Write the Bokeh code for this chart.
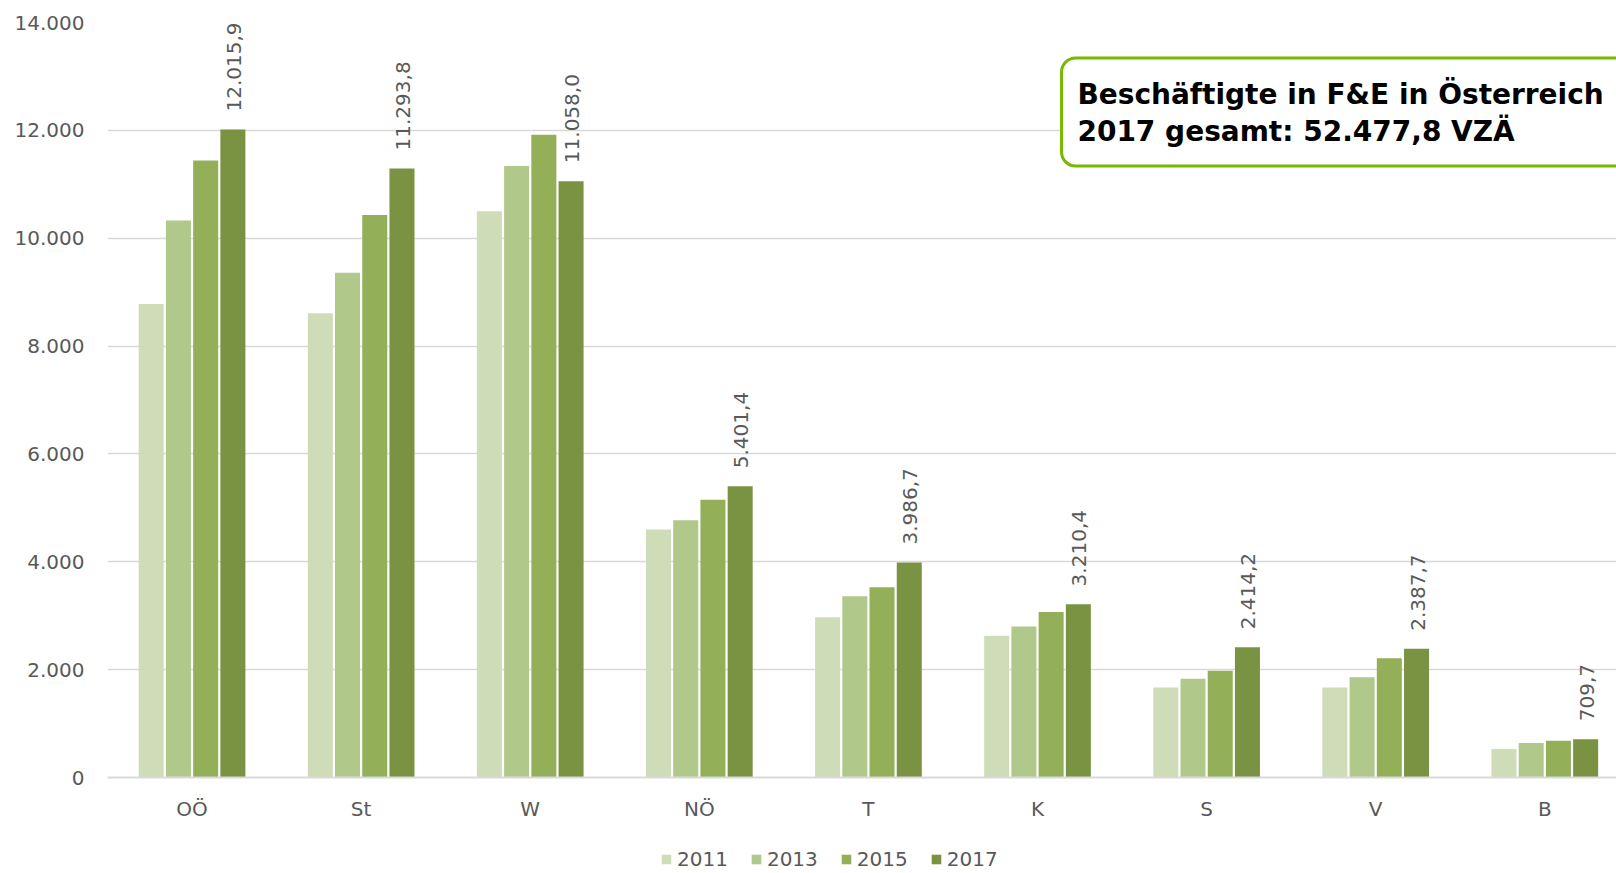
import math
from bokeh.plotting import figure
from bokeh.layouts import column
from bokeh.models import (ColumnDataSource, Range1d, FixedTicker, BoxAnnotation, Label,
                          LabelSet, Legend, LegendItem)
from bokeh.core.properties import value
from bokeh.embed import file_html
from bokeh.resources import INLINE

categories = ["OÖ", "St", "W", "NÖ", "T", "K", "S", "V", "B"]
years = ["2011", "2013", "2015", "2017"]
v2011 = [8780, 8610, 10500, 4600, 2970, 2630, 1670, 1670, 530]
v2013 = [10330, 9360, 11340, 4770, 3360, 2800, 1830, 1860, 640]
v2015 = [11440, 10430, 11920, 5150, 3530, 3070, 1980, 2210, 680]
v2017 = [12015.9, 11293.8, 11058.0, 5401.4, 3986.7, 3210.4, 2414.2, 2387.7, 709.7]
colors = ["#cfdcb8", "#b0c88a", "#93b058", "#7a9343"]
y_ticks = [0, 2000, 4000, 6000, 8000, 10000, 12000, 14000]
y_tick_labels = ["0", "2.000", "4.000", "6.000", "8.000", "10.000", "12.000", "14.000"]
title_lines = ["Beschäftigte in F&E in Österreich", "2017 gesamt: 52.477,8 VZÄ"]

FONT = "DejaVu Sans"
GRAY = "#595959"

p = figure(width=1616, height=837, output_backend="svg", toolbar_location=None,
           x_range=Range1d(0, 8.924), y_range=Range1d(0, 14000),
           min_border_left=107, min_border_right=0, min_border_top=22, min_border_bottom=60)
p.outline_line_color = None
p.background_fill_color = "white"

series = [v2011, v2013, v2015, v2017]
step = 0.161
width = 0.148
renderers = []
for j, (yr, vals) in enumerate(zip(years, series)):
    xs = [i + 0.5 + (j - 1.5) * step for i in range(len(categories))]
    src = ColumnDataSource(dict(x=xs, top=vals))
    r = p.vbar(x="x", top="top", width=width, bottom=0, source=src,
               fill_color=colors[j], line_color=None)
    renderers.append(r)

# data labels for 2017
def fmt(v):
    s = f"{v:,.1f}"
    return s.replace(",", "X").replace(".", ",").replace("X", ".")

lx = [i + 0.5 + 1.5 * step + 0.006 for i in range(len(categories))]
lsrc = ColumnDataSource(dict(x=lx, y=v2017, t=[fmt(v) for v in v2017]))
labels = LabelSet(x="x", y="y", text="t", source=lsrc, angle=math.pi / 2,
                  text_align="left", text_baseline="middle", y_offset=18,
                  text_font=value(FONT), text_font_size="20px", text_color=GRAY)
p.add_layout(labels)

# axes
p.xaxis.ticker = FixedTicker(ticks=[i + 0.5 for i in range(len(categories))])
p.xaxis.major_label_overrides = {i + 0.5: c for i, c in enumerate(categories)}
p.xaxis.major_tick_line_color = None
p.xaxis.major_tick_out = 0
p.xaxis.major_tick_in = 0
p.xaxis.minor_tick_line_color = None
p.xaxis.axis_line_color = "#d9d9d9"
p.xaxis.axis_line_width = 2
p.xaxis.major_label_text_font = FONT
p.xaxis.major_label_text_font_size = "20px"
p.xaxis.major_label_text_color = GRAY
p.xaxis.major_label_standoff = 19

p.yaxis.ticker = FixedTicker(ticks=y_ticks)
p.yaxis.major_label_overrides = dict(zip(y_ticks, y_tick_labels))
p.yaxis.major_tick_line_color = None
p.yaxis.major_tick_out = 0
p.yaxis.major_tick_in = 0
p.yaxis.minor_tick_line_color = None
p.yaxis.axis_line_color = None
p.yaxis.major_label_text_font = FONT
p.yaxis.major_label_text_font_size = "20px"
p.yaxis.major_label_text_color = GRAY
p.yaxis.major_label_standoff = 23

p.xgrid.grid_line_color = None
p.ygrid.grid_line_color = "#d9d9d9"
p.ygrid.grid_line_width = 1.5

# title box
box = BoxAnnotation(left=5.642, right=9.6, top=13342, bottom=11339,
                    fill_color="white", fill_alpha=1.0, line_alpha=1.0,
                    line_color="#76b900", line_width=3, border_radius=14)
p.add_layout(box)
for line, yv in zip(title_lines, [12660, 11976]):
    p.add_layout(Label(x=5.736, y=yv, text=line, text_font=FONT, text_font_style="bold",
                       text_font_size="28px", text_color="black", text_baseline="alphabetic"))

# legend strip below the chart (frames are aligned in the column layout)
pl = figure(width=1616, height=36, output_backend="svg", toolbar_location=None,
            x_range=Range1d(0, 1), y_range=Range1d(0, 1),
            min_border_left=107, min_border_right=0, min_border_top=0, min_border_bottom=0)
pl.axis.visible = False
pl.grid.grid_line_color = None
pl.outline_line_color = None
nan = float("nan")
leg_renderers = [pl.vbar(x=[nan], top=[nan], width=0.1, fill_color=c, line_color=None)
                 for c in colors]
legend = Legend(items=[LegendItem(label=yr, renderers=[r]) for yr, r in zip(years, leg_renderers)],
                orientation="horizontal", location=(553, 2),
                label_text_font=FONT, label_text_font_size="20px", label_text_color=GRAY,
                glyph_width=12, glyph_height=12, label_standoff=5, spacing=22,
                border_line_color=None, background_fill_alpha=0, padding=0, margin=0)
pl.add_layout(legend)

layout = column(p, pl, spacing=0)
open("out.html", "w").write(file_html(layout, INLINE))
